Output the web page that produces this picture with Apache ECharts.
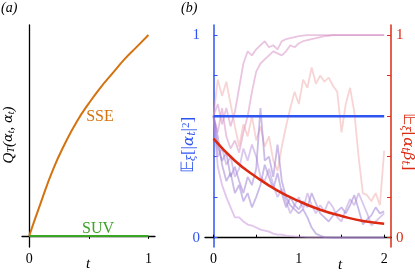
<!DOCTYPE html>
<html><head><meta charset="utf-8">
<script src="https://cdn.jsdelivr.net/npm/echarts@6/dist/echarts.min.js"></script>
<style>html,body{margin:0;padding:0;background:#fff}#c{width:415px;height:273px}</style>
</head><body><div id="c"></div>
<script>
// Panel (a)
var sseT = [0, 0.1, 0.2, 0.3, 0.4, 0.5, 0.6, 0.7, 0.8, 0.9, 1.0];
var sseV = [0, 0.17, 0.33, 0.46, 0.57, 0.66, 0.74, 0.81, 0.88, 0.94, 1.0];
var suvT = [0, 1];
var suvV = [0, 0];
var ticksA = [0, 0.5, 1];
var labelsA = [0, 1];

// Panel (b)
var tGrid = [0,0.05,0.1,0.15,0.2,0.25,0.3,0.35,0.4,0.45,0.5,0.55,0.6,0.65,0.7,0.75,0.8,0.85,0.9,0.95,1.0,
             1.05,1.1,1.15,1.2,1.25,1.3,1.35,1.4,1.45,1.5,1.55,1.6,1.65,1.7,1.75,1.8,1.85,1.9,1.95,2.0];
var pink1 = [0.60,0.66,0.56,0.64,0.55,0.62,0.74,0.86,0.92,0.90,0.93,0.95,0.97,0.94,0.95,0.93,0.97,0.98,0.985,0.99,0.995,
             0.998,1,1,1,1,1,1,1,1,1,1,1,1,1,1,1,1,1,1,1];
var pink2 = [0.60,0.52,0.64,0.50,0.44,0.48,0.42,0.52,0.60,0.72,0.82,0.86,0.88,0.90,0.92,0.91,0.90,0.92,0.95,0.94,0.96,
             0.97,0.975,0.98,0.985,0.99,0.995,0.997,1,1,1,1,1,1,1,1,1,1,1,1,1];
var salmon1 = [0.60,0.78,0.70,0.77,0.66,0.55,0.45,0.56,0.50,0.60,0.48,0.55,0.45,0.50,0.38,0.33,0.45,0.55,0.64,0.72,0.66,
               0.78,0.74,0.84,0.76,0.80,0.77,0.79,0.75,0.72,0.52,0.66,0.74,0.62,0.40,0.22,0.21,0.18,0.22,0.16,0.43];
var orchid1 = [0.60,0.35,0.26,0.20,0.15,0.10,0.10,0.08,0.065,0.06,0.05,0.04,0.035,0.03,0.02,0.015,0.015,0.01,0.008,0.006,0.005,
               0.004,0.003,0.002,0.002,0.001,0,0,0,0,0,0,0,0,0,0,0,0,0,0,0];
var purple1 = [0.60,0.45,0.38,0.42,0.30,0.35,0.28,0.22,0.30,0.26,0.34,0.64,0.38,0.40,0.30,0.46,0.28,0.20,0.16,0.14,0.12,
               0.14,0.10,0.05,0.02,0.01,0.003,0.002,0,0,0,0,0,0,0,0,0,0,0,0,0];
var purple2 = [0.60,0.50,0.36,0.28,0.32,0.22,0.26,0.18,0.22,0.15,0.20,0.26,0.36,0.30,0.24,0.32,0.22,0.15,0.20,0.16,0.14,
               0.18,0.15,0.22,0.17,0.12,0.10,0.08,0.11,0.13,0.15,0.12,0.16,0.21,0.14,0.065,0.09,0.11,0.15,0.12,0.13];
var purple3 = [0.60,0.40,0.44,0.36,0.40,0.30,0.34,0.44,0.38,0.46,0.40,0.30,0.28,0.34,0.26,0.20,0.24,0.18,0.12,0.16,0.20,
               0.14,0.22,0.16,0.12,0.16,0.13,0.18,0.15,0.10,0.08,0.14,0.19,0.16,0.22,0.17,0.12,0.06,0.08,0.10,0.12];
var meanT = [0, 2];
var meanAbs = [0.6, 0.6];
var corrT = [0, 0.25, 0.5, 0.75, 1.0, 1.25, 1.5, 1.75, 2.0];
var corrV = [0.489, 0.38, 0.30, 0.232, 0.18, 0.138, 0.107, 0.082, 0.069];
var ticksBx = [0, 0.5, 1, 1.5, 2];
var labelsBx = [0, 1, 2];
var ticksBy = [0, 0.2, 0.4, 0.6, 0.8, 1];
var labelsBy = [0, 1];

function zip(a, b) { return a.map(function (v, i) { return [v, b[i]]; }); }

var SERIF = 'Liberation Serif';
var BLUE = '#2e55f2';
var RED = '#dc2a12';
var ORANGE = '#d4720f';
var GREEN = '#3aa523';

function traj(vals, color) {
  return { type: 'line', xAxisIndex: 1, yAxisIndex: 1, data: zip(tGrid, vals), showSymbol: false, silent: true,
    lineStyle: { color: color, width: 1.8 }, z: 1 };
}

var chart = echarts.init(document.getElementById('c'), null, { renderer: 'canvas' });
var option = {
  animation: false,
  grid: [
    { left: 22, top: 25, width: 133, height: 222 },
    { left: 205, top: 25, width: 186, height: 222 }
  ],
  xAxis: [
    { gridIndex: 0, type: 'value', min: -0.06, max: 1.055, splitLine: { show: false },
      axisLine: { lineStyle: { color: '#000', width: 1.3 } },
      axisTick: { customValues: ticksA, length: 3, lineStyle: { color: '#000' } },
      axisLabel: { customValues: labelsA, color: '#000', fontFamily: SERIF, fontSize: 14, margin: 5 } },
    { gridIndex: 1, type: 'value', min: -0.1, max: 2.08, splitLine: { show: false },
      axisLine: { lineStyle: { color: '#000', width: 1.3 } },
      axisTick: { customValues: ticksBx, inside: true, length: 3, lineStyle: { color: '#000' } },
      axisLabel: { customValues: labelsBx, color: '#000', fontFamily: SERIF, fontSize: 14, margin: 5 } }
  ],
  yAxis: [
    { gridIndex: 0, type: 'value', min: -0.055, max: 1.05, splitLine: { show: false },
      axisLine: { show: true, lineStyle: { color: '#000', width: 1.3 } },
      axisTick: { show: false }, axisLabel: { show: false } },
    { gridIndex: 1, type: 'value', min: -0.046, max: 1.05, splitLine: { show: false },
      axisLine: { show: true, lineStyle: { color: BLUE, width: 1.5 } },
      axisTick: { customValues: ticksBy, inside: true, length: 4, lineStyle: { color: BLUE } },
      axisLabel: { customValues: labelsBy, color: BLUE, fontFamily: SERIF, fontSize: 15, margin: 5 } },
    { gridIndex: 1, type: 'value', position: 'right', min: -0.046, max: 1.05, splitLine: { show: false },
      axisLine: { show: true, lineStyle: { color: RED, width: 1.5 } },
      axisTick: { customValues: ticksBy, inside: true, length: 4, lineStyle: { color: RED } },
      axisLabel: { customValues: labelsBy, color: RED, fontFamily: SERIF, fontSize: 15, margin: 5 } }
  ],
  series: [
    { type: 'line', xAxisIndex: 0, yAxisIndex: 0, data: zip(sseT, sseV), smooth: true, showSymbol: false,
      lineStyle: { color: ORANGE, width: 2 } },
    { type: 'line', xAxisIndex: 0, yAxisIndex: 0, data: zip(suvT, suvV), showSymbol: false,
      lineStyle: { color: GREEN, width: 2 } },
    traj(pink1, 'rgba(214,140,196,0.5)'),
    traj(pink2, 'rgba(214,140,196,0.5)'),
    traj(salmon1, 'rgba(240,160,160,0.45)'),
    traj(orchid1, 'rgba(200,150,220,0.55)'),
    traj(purple1, 'rgba(150,120,210,0.5)'),
    traj(purple2, 'rgba(150,120,210,0.5)'),
    traj(purple3, 'rgba(170,130,215,0.45)'),
    { type: 'line', xAxisIndex: 1, yAxisIndex: 1, data: zip(meanT, meanAbs), showSymbol: false, z: 3,
      lineStyle: { color: BLUE, width: 2.5 } },
    { type: 'line', xAxisIndex: 1, yAxisIndex: 2, data: zip(corrT, corrV), smooth: true, showSymbol: false, z: 4,
      lineStyle: { color: RED, width: 2.5 } }
  ],
  graphic: [
    { type: 'text', left: 1, top: 1, style: { text: '(a)', font: 'italic 14px "Liberation Serif"', fill: '#000' } },
    { type: 'text', left: 181, top: 1, style: { text: '(b)', font: 'italic 14px "Liberation Serif"', fill: '#000' } },
    { type: 'text', x: 100, y: 117, style: { text: 'SSE', font: '16px "Liberation Serif"', fill: ORANGE, align: 'center', verticalAlign: 'middle' } },
    { type: 'text', x: 98, y: 229, style: { text: 'SUV', font: '16px "Liberation Serif"', fill: GREEN, align: 'center', verticalAlign: 'middle' } },
    { type: 'text', x: 88, y: 264, style: { text: 't', font: 'italic 15px "Liberation Serif"', fill: '#000', align: 'center', verticalAlign: 'middle' } },
    { type: 'text', x: 340, y: 265, style: { text: 't', font: 'italic 15px "Liberation Serif"', fill: '#000', align: 'center', verticalAlign: 'middle' } },
    { type: 'text', x: 9, y: 135, rotation: Math.PI / 2,
      style: { text: '{m|Q}{s|T}{m|(}{g|α}{s|t}{m|, }{g|α}{s|t}{m|)}', align: 'center', verticalAlign: 'middle', fill: '#000',
        rich: { m: { fontFamily: SERIF, fontStyle: 'italic', fontSize: 15, fill: '#000' },
                g: { fontFamily: 'DejaVu Serif', fontStyle: 'italic', fontSize: 13, fill: '#000' },
                s: { fontFamily: SERIF, fontStyle: 'italic', fontSize: 10, fill: '#000', verticalAlign: 'bottom' } } } },
    { type: 'text', x: 189, y: 145, rotation: Math.PI / 2,
      style: { text: '{m|𝔼}{s|ξ}{m|[|}{g|α}{s|t}{m||}{p|2}{m|]}', align: 'center', verticalAlign: 'middle', fill: BLUE,
        rich: { m: { fontFamily: SERIF, fontSize: 17, fill: BLUE },
                g: { fontFamily: 'DejaVu Serif', fontStyle: 'italic', fontSize: 15, fill: BLUE },
                s: { fontFamily: 'DejaVu Serif', fontStyle: 'italic', fontSize: 11, fill: BLUE, verticalAlign: 'bottom' },
                p: { fontFamily: SERIF, fontSize: 11, fill: BLUE, verticalAlign: 'top' } } } },
    { type: 'text', x: 408, y: 142, rotation: -Math.PI / 2,
      style: { text: '{m|𝔼}{s|ξ}{m|[}{g|α}{s|t}{g|β}{s|t}{m|]}', align: 'center', verticalAlign: 'middle', fill: RED,
        rich: { m: { fontFamily: SERIF, fontSize: 17, fill: RED },
                g: { fontFamily: 'DejaVu Serif', fontStyle: 'italic', fontSize: 15, fill: RED },
                s: { fontFamily: 'DejaVu Serif', fontStyle: 'italic', fontSize: 11, fill: RED, verticalAlign: 'bottom' } } } }
  ]
};
chart.setOption(option);
</script></body></html>
